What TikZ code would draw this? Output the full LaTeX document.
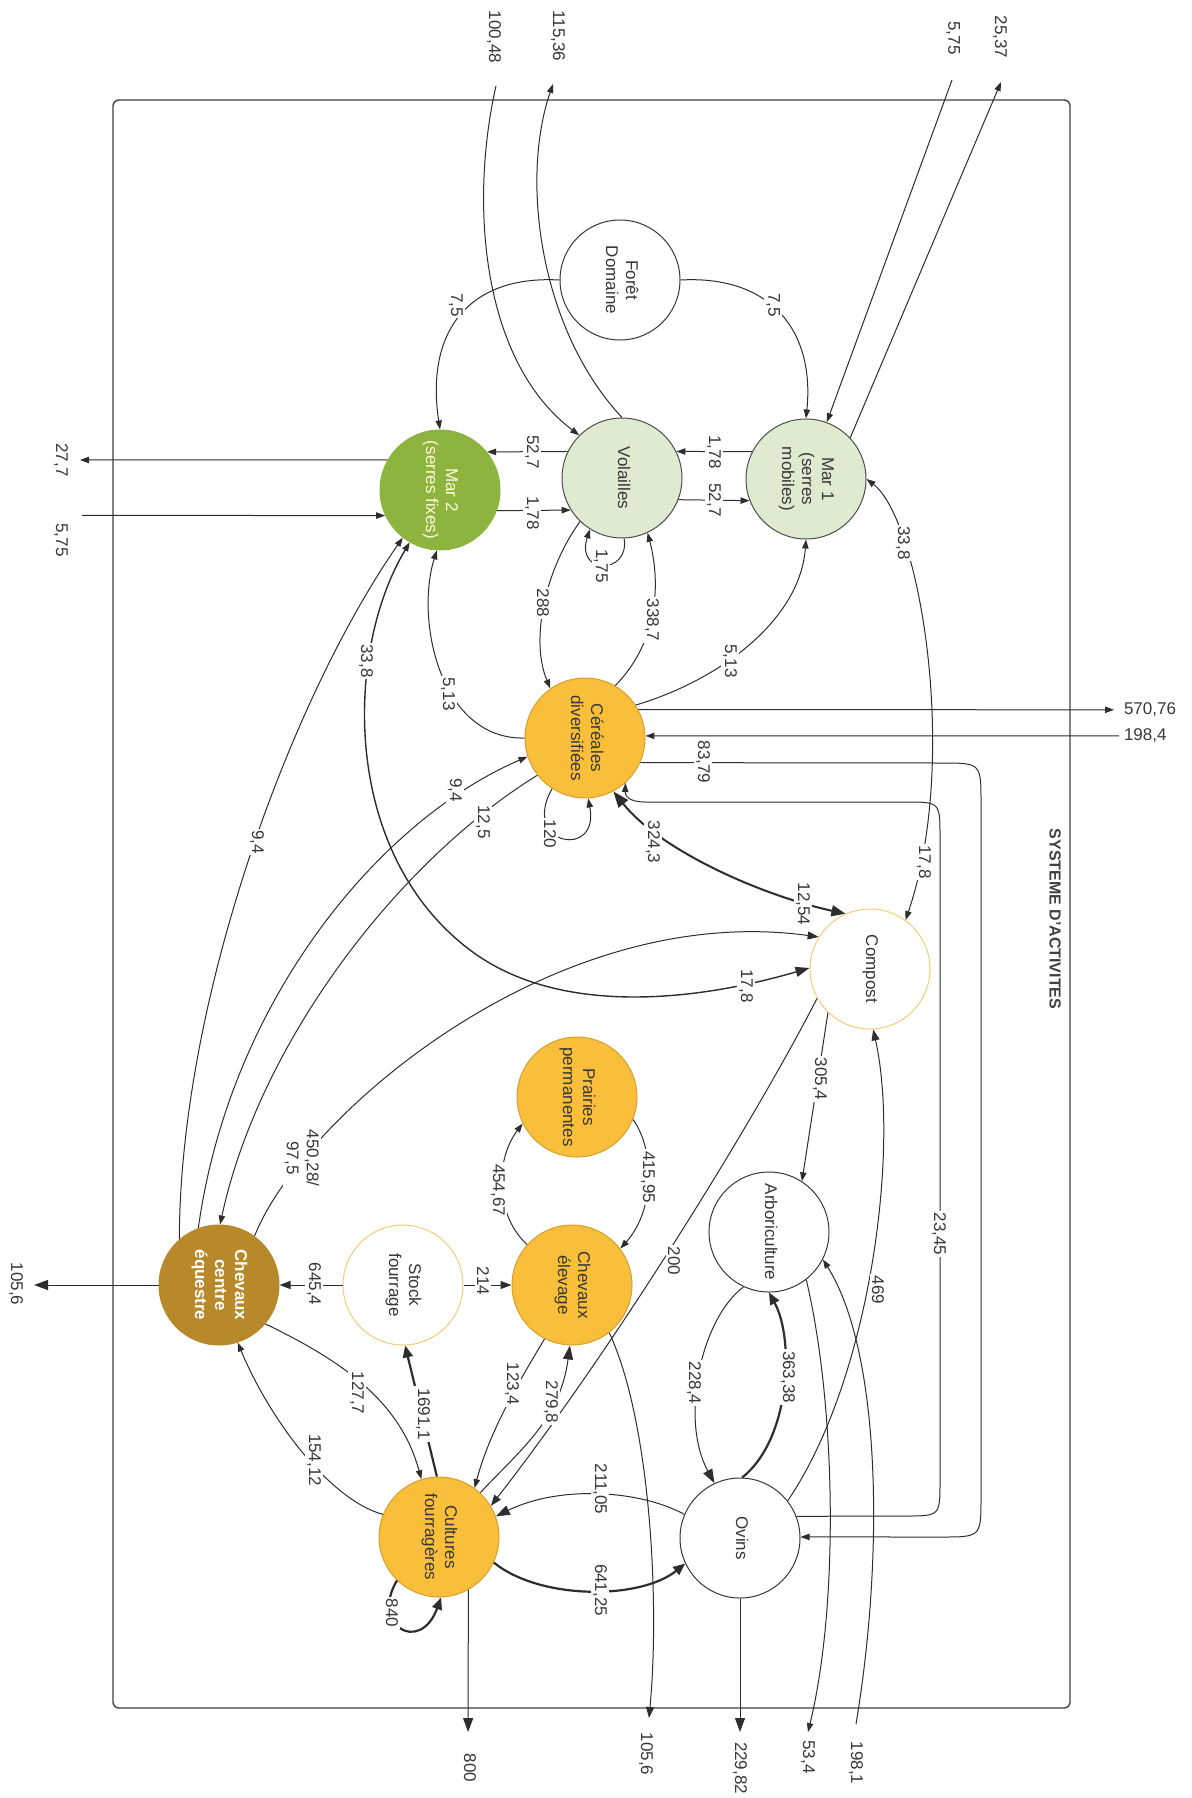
\documentclass[tikz,border=0pt]{standalone}
\usepackage{fontspec}
\setmainfont{Liberation Sans}
\usepackage{graphicx}
\usetikzlibrary{arrows.meta}
\definecolor{orangeN}{RGB}{249,190,58}
\definecolor{orangeB}{RGB}{215,160,45}
\definecolor{goldN}{RGB}{184,137,42}
\definecolor{greenN}{RGB}{141,180,62}
\definecolor{lgreen}{RGB}{222,235,208}
\definecolor{lorange}{RGB}{244,204,118}
\definecolor{txt}{RGB}{55,55,55}
\definecolor{lnc}{RGB}{45,45,45}
\newcommand{\vt}[1]{\rotatebox{-90}{\begin{tabular}{@{}c@{}}#1\end{tabular}}}
\tikzset{
  nd/.style={circle, minimum size=60pt, inner sep=0pt, draw=txt, line width=0.5pt, text=txt, font=\fontsize{8.5}{10}\selectfont},
  ndw/.style={nd, fill=white},
  ndl/.style={nd, fill=lgreen, draw=black!70},
  ndg/.style={nd, fill=greenN, draw=greenN, text=yellow!15},
  ndo/.style={nd, fill=orangeN, draw=orangeB},
  ndy/.style={nd, fill=white, draw=lorange},
  ndd/.style={nd, fill=goldN, draw=goldN, text=white, font=\bfseries\fontsize{8.5}{10}\selectfont},
  lab/.style={fill=white, inner sep=0.8pt, rotate=-90, text=txt, font=\fontsize{8.5}{10}\selectfont},
  hlab/.style={inner sep=0.8pt, text=txt, font=\fontsize{8.5}{10}\selectfont},
  conn/.style={line width=0.5pt, draw=lnc},
  arr/.style={conn, -{Triangle[length=4.5pt,width=3.2pt]}},
  arrm/.style={conn, -{Triangle[length=5.5pt,width=4pt]}},
  arrb/.style={conn, -{Triangle[length=7pt,width=5pt]}},
  arrt/.style={line width=1.1pt, draw=lnc, -{Triangle[length=6pt,width=5pt]}},
  arrtwo/.style={conn, {Triangle[length=4.5pt,width=3.2pt]}-{Triangle[length=4.5pt,width=3.2pt]}},
  arrtwob/.style={line width=0.7pt, draw=lnc, {Triangle[length=4.5pt,width=3.2pt]}-{Triangle[length=7pt,width=5pt]}},
  arrbb/.style={line width=1pt, draw=lnc, {Triangle[length=8pt,width=6pt]}-{Triangle[length=7pt,width=5.5pt]}}
}
\begin{document}
\begin{tikzpicture}[x=0.5pt,y=-0.5pt]
\useasboundingbox (0,0) rectangle (1192,1798);
% frame
\draw[line width=0.7pt, black!75, rounded corners=3pt] (113,100) rectangle (1070,1708);
\node[rotate=-90, text=black!75, font=\bfseries\fontsize{8}{10}\selectfont] (title) at (1055,919) {SYSTEME D'ACTIVITES};

% nodes
\node[ndw] (foret) at (620,280) {\vt{Forêt\\Domaine}};
\node[ndg] (mar2) at (440,490) {\vt{Mar 2\\(serres fixes)}};
\node[ndl] (vol) at (622,478) {\vt{Volailles}};
\node[ndl] (mar1) at (806,479) {\vt{Mar 1\\(serres\\mobiles)}};
\node[ndo] (cer) at (585,738) {\vt{Céréales\\diversifiées}};
\node[ndy] (compost) at (870,969) {\vt{Compost}};
\node[ndo] (prairies) at (577,1097) {\vt{Prairies\\permanentes}};
\node[ndw] (arbo) at (769,1232) {\vt{Arboriculture}};
\node[ndy] (stock) at (403,1285) {\vt{Stock\\fourrage}};
\node[ndo] (chel) at (572,1285) {\vt{Chevaux\\élevage}};
\node[ndd] (chce) at (219,1285) {\vt{Chevaux\\centre\\équestre}};
\node[ndw] (ovins) at (740,1538) {\vt{Ovins}};
\node[ndo] (cult) at (439,1537) {\vt{Cultures\\fourragères}};

% free ends
\coordinate (c10048) at (496,86);
\coordinate (c11536) at (553,84);
\coordinate (c575t) at (952,80);
\coordinate (c2537) at (1001,82);
\coordinate (c277) at (80,460);
\coordinate (c575l) at (82,515.4);
\coordinate (c57076) at (1114,709.8);
\coordinate (c1984) at (1119,735.9);
\coordinate (c1056b) at (649,1718);
\coordinate (c22982) at (740,1732);
\coordinate (c534) at (808,1732);
\coordinate (c1981) at (856,1724);
\coordinate (c1056l) at (34,1285);
\coordinate (c800) at (468.1,1732);

% connectors
\draw[arr] (foret.180) .. controls (470,275) and (425,330) .. (mar2.90);
\draw[arr] (foret.0) .. controls (770,275) and (815,330) .. (mar1.90);
\draw[arr] (c10048) .. controls (470,200) and (480,360) .. (vol.135);
\draw[arr] (vol.90) .. controls (540,330) and (520,180) .. (c11536);
\draw[arr] (c575t) -- (mar1);
\draw[arr] (mar1.43) -- (c2537);
\draw[arr] (mar2.150) -- (c277);
\draw[arr] (c575l) -- (mar2.205);
\draw[arr] (vol.154) -- (mar2.39);
\draw[arr] (mar2.-20) -- (vol.212);
\draw[arr] (mar1.153) -- (vol.26);
\draw[arr] (vol.-21) -- (mar1.201);
\draw[arr] (vol.-88) .. controls (630,575) and (575,575) .. (vol.-122);
\draw[arr] (vol.226) .. controls (545,570) and (530,640) .. (cer.125);
\draw[arr] (cer.60) .. controls (660,640) and (660,580) .. (vol.-65);
\draw[arr] (cer.180) .. controls (440,740) and (415,620) .. (mar2.-93);
\draw[arr] (cer.33) .. controls (720,680) and (800,620) .. (mar1.-90);
\draw[arr] (cer.28) -- (c57076);
\draw[arr] (c1984) -- (cer.2);
\draw[arr] (cer.-24.6) -- (941,763) .. controls (981,763) .. (981,803) -- (981,1497) .. controls (981,1537) .. (941,1537) -- (ovins.1);
\draw[arr] (ovins.21.5) -- (905,1516) .. controls (940,1516) .. (940,1481) -- (940,837) .. controls (940,802) .. (905,802) -- (645,802) .. controls (628,802) and (625,795) .. (cer.-48);
\draw[arrbb] (cer.-62) .. controls (660,850) and (760,895) .. (compost.114);
\draw[arrtwo] (mar1.0) .. controls (920,520) and (960,760) .. (compost.54);
\draw[arrtwob] (mar2.-120) .. controls (345,650) and (340,852) .. (470,950) .. controls (560,1018) and (700,1000) .. (compost.179);
\draw[arrm] (chce.54) .. controls (300,1120) and (550,900) .. (compost.148);
\draw[arr] (chce.131) .. controls (180,1000) and (290,700) .. (mar2.-128);
\draw[arr] (chce.110) .. controls (230,1000) and (380,820) .. (cer.198);
\draw[arr] (cer.218) .. controls (400,860) and (260,1040) .. (chce.89);
\draw[arr] (compost.-134) -- (arbo.57);
\draw[arrm] (compost.209) .. controls (760,1110) and (620,1340) .. (cult.31);
\draw[arrm] (ovins.38) .. controls (870,1380) and (900,1150) .. (compost.-87);
\draw[arrm] (chel.-52) .. controls (650,1420) and (660,1600) .. (c1056b);
\draw[arrb] (ovins.-90) -- (c22982);
\draw[arr] (arbo.-52) .. controls (835,1400) and (840,1600) .. (c534);
\draw[arr] (c1981) .. controls (885,1550) and (880,1350) .. (arbo.-27);
\draw[arrb] (arbo.-115) .. controls (700,1320) and (680,1420) .. (ovins.115);
\draw[arrt] (ovins.88) .. controls (790,1440) and (795,1340) .. (arbo.-90);
\draw[arrb] (ovins.157) .. controls (640,1490) and (560,1485) .. (cult.20);
\draw[arrt] (cult.-25) .. controls (540,1600) and (640,1600) .. (ovins.205);
\draw[arrt] (cult.-134) .. controls (370,1625) and (420,1655) .. (cult.-88);
\draw[arrt] (cult.92) -- (stock.-88);
\draw[arrm] (stock.180) -- (chce.0);
\draw[arrm] (stock.0) -- (chel.180);
\draw[arrb] (chce.180) -- (c1056l);
\draw[arrb] (cult.-61) -- (c800);
\draw[arr] (chce.-40) .. controls (340,1360) and (400,1400) .. (cult.107);
\draw[arr] (cult.158) .. controls (330,1500) and (270,1420) .. (chce.-72);
\draw[arr] (chel.-117) .. controls (520,1380) and (490,1430) .. (cult.54);
\draw[arrb] (cult.47) .. controls (520,1450) and (560,1420) .. (chel.-92);
\draw[arr] (chel.138) .. controls (495,1215) and (495,1160) .. (prairies.206);
\draw[arr] (prairies.-22) .. controls (655,1150) and (655,1210) .. (chel.37);
\draw[arr] (cer.-123) .. controls (520,845) and (600,860) .. (cer.-87);

% labels
\node[lab] (l01) at (456,305) {7,5};
\node[lab] (l02) at (773,305) {7,5};
\node[lab] (l03) at (494,37) {100,48};
\node[lab] (l04) at (558,36) {115,36};
\node[lab] (l05) at (953,38) {5,75};
\node[lab] (l06) at (1000,37) {25,37};
\node[lab] (l07) at (61,460) {27,7};
\node[lab] (l08) at (61,540) {5,75};
\node[lab] (l09) at (532,452) {52,7};
\node[lab] (l10) at (532,513) {1,78};
\node[lab] (l11) at (714,452) {1,78};
\node[lab] (l12) at (714,500) {52,7};
\node[lab] (l13) at (601,566) {1,75};
\node[lab] (l14) at (543,603) {288};
\node[lab] (l15) at (652,620) {338,7};
\node[lab] (l16) at (448,694) {5,13};
\node[lab] (l17) at (730,661) {5,13};
\node[lab] (l18) at (903,543) {33,8};
\node[lab] (l19) at (924,862) {17,8};
\node[lab] (l20) at (366,661) {33,8};
\node[lab] (l21) at (746,986) {17,8};
\node[lab] (l22) at (703,762) {83,79};
\node[lab] (l23) at (939,1234) {23,45};
\node[lab] (l24) at (653,842) {324,3};
\node[lab] (l25) at (803,904) {12,54};
\node[lab] (l26) at (550,834) {120};
\node[lab] (l27) at (257,842) {9,4};
\node[lab] (l28) at (455,790) {9,4};
\node[lab] (l29) at (483,822) {12,5};
\node[lab, align=center] (l30) at (302,1158) {450,28/\\97,5};
\node[lab] (l31) at (820,1079) {305,4};
\node[lab] (l32) at (674,1261) {200};
\node[lab] (l33) at (878,1290) {469};
\node[lab] (l34) at (498,1190) {454,67};
\node[lab] (l35) at (648,1177) {415,95};
\node[lab] (l36) at (314,1284) {645,4};
\node[lab] (l37) at (483,1281) {214};
\node[lab] (l38) at (512,1384) {123,4};
\node[lab] (l39) at (551,1402) {279,8};
\node[lab] (l40) at (423,1414) {1691,1};
\node[lab] (l41) at (357,1393) {127,7};
\node[lab] (l42) at (314,1460) {154,12};
\node[lab] (l43) at (694,1383) {228,4};
\node[lab] (l44) at (788,1377) {363,38};
\node[lab] (l45) at (600,1489) {211,05};
\node[lab] (l46) at (600,1590) {641,25};
\node[lab] (l47) at (392,1613) {840};
\node[lab] (l48) at (16,1284) {105,6};
\node[lab] (l49) at (470,1768) {800};
\node[lab] (l50) at (646,1754) {105,6};
\node[lab] (l51) at (740,1768) {229,82};
\node[lab] (l52) at (808,1757) {53,4};
\node[lab] (l53) at (856,1763) {198,1};
\node[hlab, anchor=west] (l54) at (1122,710) {570,76};
\node[hlab, anchor=west] (l55) at (1122,736) {198,4};
\end{tikzpicture}
\end{document}
